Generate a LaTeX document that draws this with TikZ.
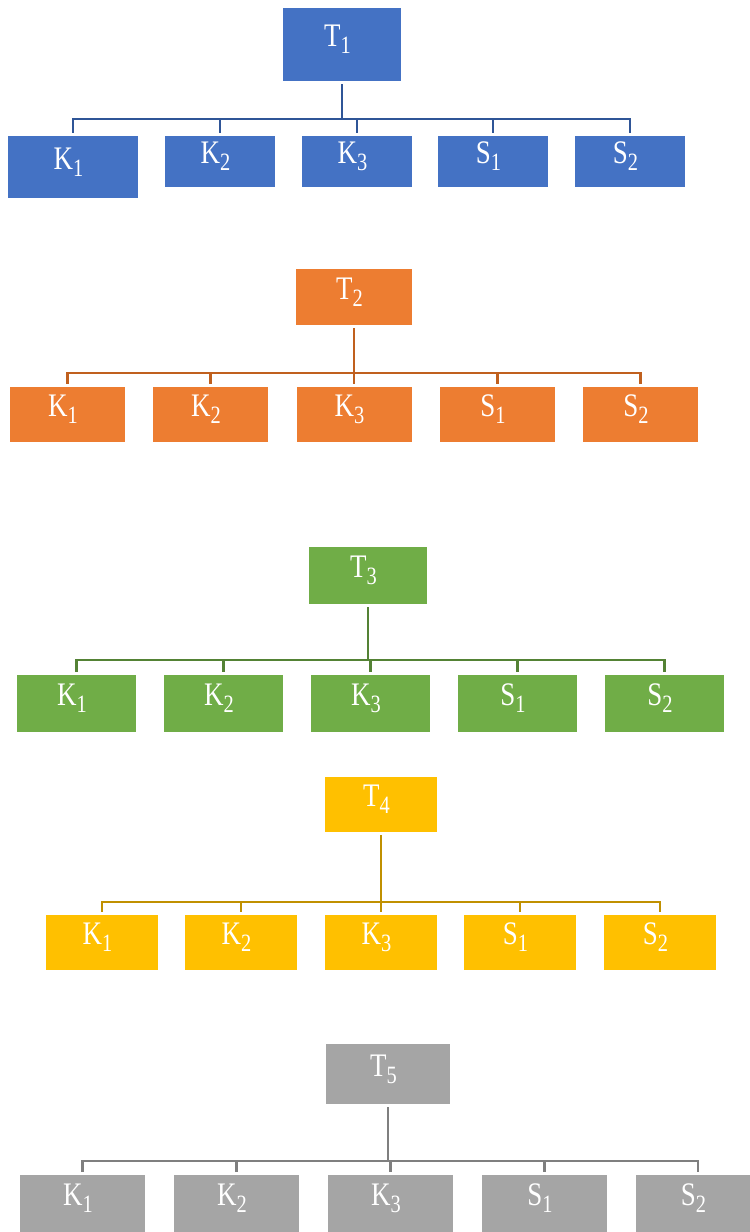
\documentclass[tikz,border=0pt]{standalone}
\usepackage{fontspec}
\setmainfont{Liberation Serif}
\usepackage{graphicx}
\usetikzlibrary{positioning}
\definecolor{BlueFill}{HTML}{4472C4}
\definecolor{BlueLine}{HTML}{2F5597}
\definecolor{OrangeFill}{HTML}{ED7D31}
\definecolor{OrangeLine}{HTML}{C0601E}
\definecolor{GreenFill}{HTML}{70AD47}
\definecolor{GreenLine}{HTML}{548235}
\definecolor{GoldFill}{HTML}{FFC000}
\definecolor{GoldLine}{HTML}{C09000}
\definecolor{GreyFill}{HTML}{A5A5A5}
\definecolor{GreyLine}{HTML}{7F7F7F}
% letter with a large lowered index, set a little high and left in its box
\newcommand{\lbl}[2]{\scalebox{0.82}[1]{#1\raisebox{-7bp}{\fontsize{25}{25}\selectfont #2}}\hspace{9bp}\rule[-17bp]{0pt}{0pt}}

\begin{document}
\begin{tikzpicture}[
      x=1bp,y=-1bp,
      box/.style={fill=#1,text=white,inner sep=0pt,
                  font=\fontsize{33}{34}\selectfont},
      link/.style={draw=#1,line width=2.3bp,shorten <=3bp,shorten >=3bp}
    ]
    \useasboundingbox (0,0) rectangle (750,1232);

    % Tree 1 (blue)
    \node (T1) [box=BlueFill,minimum width=118bp,minimum height=73bp] at (342,44.5) {\lbl{T}{1}};
    \node (T1K1) [box=BlueFill,minimum width=130bp,minimum height=62bp] at (73,167) {\lbl{K}{1}};
    \foreach \nm/\ltr/\idx/\cx in {K2/K/2/220,K3/K/3/357,S1/S/1/493,S2/S/2/630}
      \node (T1\nm) [box=BlueFill,minimum width=110bp,minimum height=51bp] at (\cx,161.5) {\lbl{\ltr}{\idx}};
    \coordinate (B1) at (0,119);
    \foreach \c in {K1,K2,K3,S1,S2}
      \draw[link=BlueLine] (T1.south) -- (T1.south |- B1) -| (T1\c.north);

    % Tree 2 (orange)
    \node (T2) [box=OrangeFill,minimum width=116bp,minimum height=56bp] at (354,297) {\lbl{T}{2}};
    \foreach \nm/\ltr/\idx/\cx in {K1/K/1/67.5,K2/K/2/210.5,K3/K/3/354,S1/S/1/497.5,S2/S/2/640.5}
      \node (T2\nm) [box=OrangeFill,minimum width=115bp,minimum height=55bp] at (\cx,414.5) {\lbl{\ltr}{\idx}};
    \coordinate (B2) at (0,373);
    \foreach \c in {K1,K2,K3,S1,S2}
      \draw[link=OrangeLine] (T2.south) -- (T2.south |- B2) -| (T2\c.north);

    % Tree 3 (green)
    \node (T3) [box=GreenFill,minimum width=118bp,minimum height=57bp] at (368,575.5) {\lbl{T}{3}};
    \foreach \nm/\ltr/\idx/\cx in {K1/K/1/76.5,K2/K/2/223.5,K3/K/3/370.5,S1/S/1/517.5,S2/S/2/664.5}
      \node (T3\nm) [box=GreenFill,minimum width=119bp,minimum height=57bp] at (\cx,703.5) {\lbl{\ltr}{\idx}};
    \coordinate (B3) at (0,660);
    \foreach \c in {K1,K2,K3,S1,S2}
      \draw[link=GreenLine] (T3.south) -- (T3.south |- B3) -| (T3\c.north);

    % Tree 4 (gold)
    \node (T4) [box=GoldFill,minimum width=112bp,minimum height=55bp] at (381,804.5) {\lbl{T}{4}};
    \foreach \nm/\ltr/\idx/\cx in {K1/K/1/102,K2/K/2/241,K3/K/3/381,S1/S/1/520,S2/S/2/660}
      \node (T4\nm) [box=GoldFill,minimum width=112bp,minimum height=55bp] at (\cx,942.5) {\lbl{\ltr}{\idx}};
    \coordinate (B4) at (0,902);
    \foreach \c in {K1,K2,K3,S1,S2}
      \draw[link=GoldLine] (T4.south) -- (T4.south |- B4) -| (T4\c.north);

    % Tree 5 (grey)
    \node (T5) [box=GreyFill,minimum width=124bp,minimum height=60bp] at (388,1074) {\lbl{T}{5}};
    \foreach \nm/\ltr/\idx/\cx in {K1/K/1/82.5,K2/K/2/236.5,K3/K/3/390.5,S1/S/1/544.5,S2/S/2/698}
      \node (T5\nm) [box=GreyFill,minimum width=125bp,minimum height=57bp] at (\cx,1203.5) {\lbl{\ltr}{\idx}};
    \coordinate (B5) at (0,1161);
    \foreach \c in {K1,K2,K3,S1,S2}
      \draw[link=GreyLine] (T5.south) -- (T5.south |- B5) -| (T5\c.north);
  \end{tikzpicture}
\end{document}
